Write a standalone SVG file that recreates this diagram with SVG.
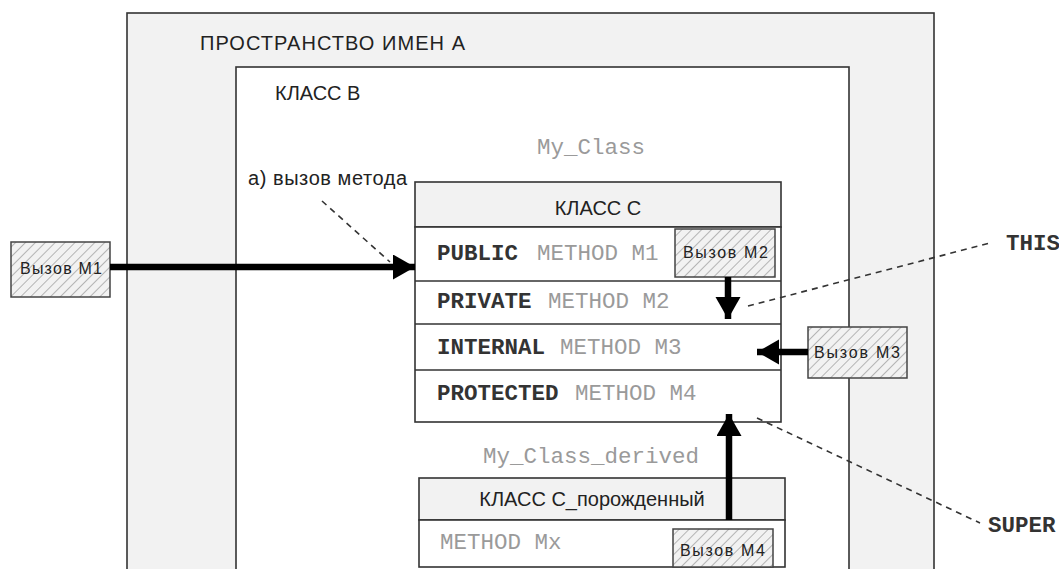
<svg xmlns="http://www.w3.org/2000/svg" width="1059" height="569" viewBox="0 0 1059 569">
<style>
.sans{font-family:"Liberation Sans",Arial,sans-serif;fill:#222}
.lbl{font-size:20px}
.call{font-size:16px}
.mono{font-family:"Liberation Mono","Courier New",monospace;font-size:22.5px}
.kw{font-weight:bold;fill:#333}
.gr{fill:#9a9a9a}
.frame{stroke:#333;stroke-width:1.6}
.hatch{fill:url(#hatch);stroke:#444;stroke-width:1.5}
.dash{fill:none;stroke:#333;stroke-width:1.6;stroke-dasharray:6 5}
.arr{fill:none;stroke:#000;stroke-width:6.5}
</style>
<defs>
<pattern id="hatch" patternUnits="userSpaceOnUse" width="7" height="7" patternTransform="rotate(45)">
<rect width="7" height="7" fill="#f2f2f2"/>
<line x1="0" y1="0" x2="0" y2="7" stroke="#999" stroke-width="1.4"/>
</pattern>
<marker id="ah" markerUnits="userSpaceOnUse" markerWidth="24" markerHeight="26" refX="22" refY="12.5" orient="auto">
<path d="M0,0 L22,12.5 L0,25 Z" fill="#000"/>
</marker>
</defs>
<rect width="1059" height="569" fill="#fff"/>

<g id="namespaceA">
<rect x="127" y="13" width="807" height="570" fill="#f2f2f2" class="frame"/>
<text x="200" y="50" class="sans lbl" textLength="265">ПРОСТРАНСТВО ИМЕН А</text>
</g>

<g id="classB">
<rect x="236" y="67" width="613" height="516" fill="#fff" class="frame"/>
<text x="275" y="100" class="sans lbl">КЛАСС В</text>
<text x="537" y="154" class="mono gr" fill="#8a8a8a">My_Class</text>
<text x="248" y="185" class="sans lbl" textLength="159">а) вызов метода</text>
</g>

<g id="classC">
<rect x="415" y="182" width="366" height="45" fill="#f2f2f2" class="frame"/>
<text x="598" y="215" class="sans lbl" text-anchor="middle">КЛАСС С</text>
<rect x="415" y="227" width="366" height="195" fill="#fff" class="frame"/>
<line x1="415" y1="281" x2="781" y2="281" class="frame"/>
<line x1="415" y1="324" x2="781" y2="324" class="frame"/>
<line x1="415" y1="370" x2="781" y2="370" class="frame"/>
<text x="437" y="260" class="mono kw">PUBLIC</text>
<text x="537" y="260" class="mono gr">METHOD M1</text>
<text x="437" y="308" class="mono kw">PRIVATE</text>
<text x="548" y="308" class="mono gr">METHOD M2</text>
<text x="437" y="354" class="mono kw">INTERNAL</text>
<text x="560" y="354" class="mono gr">METHOD M3</text>
<text x="437" y="400" class="mono kw">PROTECTED</text>
<text x="575" y="400" class="mono gr">METHOD M4</text>
</g>

<g id="classCDerived">
<text x="483" y="463" class="mono gr" fill="#8a8a8a">My_Class_derived</text>
<rect x="419" y="478" width="366" height="42" fill="#f2f2f2" class="frame"/>
<text x="592" y="506" class="sans lbl" text-anchor="middle">КЛАСС С_порожденный</text>
<rect x="419" y="520" width="366" height="47" fill="#fff" class="frame"/>
<text x="440" y="549" class="mono gr">METHOD Mx</text>
</g>

<g id="callM1">
<rect x="11" y="242" width="99" height="55" class="hatch"/>
<text x="20" y="274" class="sans call" textLength="82">Вызов М1</text>
</g>
<g id="callM2">
<rect x="675" y="229" width="100" height="48" class="hatch"/>
<text x="683" y="258" class="sans call" textLength="85">Вызов М2</text>
</g>
<g id="callM3">
<rect x="808" y="327" width="99" height="51" class="hatch"/>
<text x="814" y="358" class="sans call" textLength="86">Вызов М3</text>
</g>
<g id="callM4">
<rect x="673" y="529" width="100" height="38" class="hatch"/>
<text x="680" y="556" class="sans call" textLength="85">Вызов М4</text>
</g>

<g id="labelThis">
<text x="1006" y="250" class="mono kw">THIS</text>
</g>
<g id="labelSuper">
<text x="988" y="532" class="mono kw">SUPER</text>
</g>

<g id="connectors">
<line x1="110" y1="267" x2="415" y2="267" class="arr" marker-end="url(#ah)"/>
<line x1="728" y1="277" x2="728" y2="319" class="arr" marker-end="url(#ah)"/>
<line x1="808" y1="352" x2="757" y2="352" class="arr" marker-end="url(#ah)"/>
<line x1="729" y1="520" x2="729" y2="414" class="arr" marker-end="url(#ah)"/>
<line x1="322" y1="201" x2="390" y2="262" class="dash"/>
<line x1="748" y1="306" x2="990" y2="243" class="dash"/>
<line x1="757" y1="418" x2="980" y2="523" class="dash"/>
</g>
</svg>
